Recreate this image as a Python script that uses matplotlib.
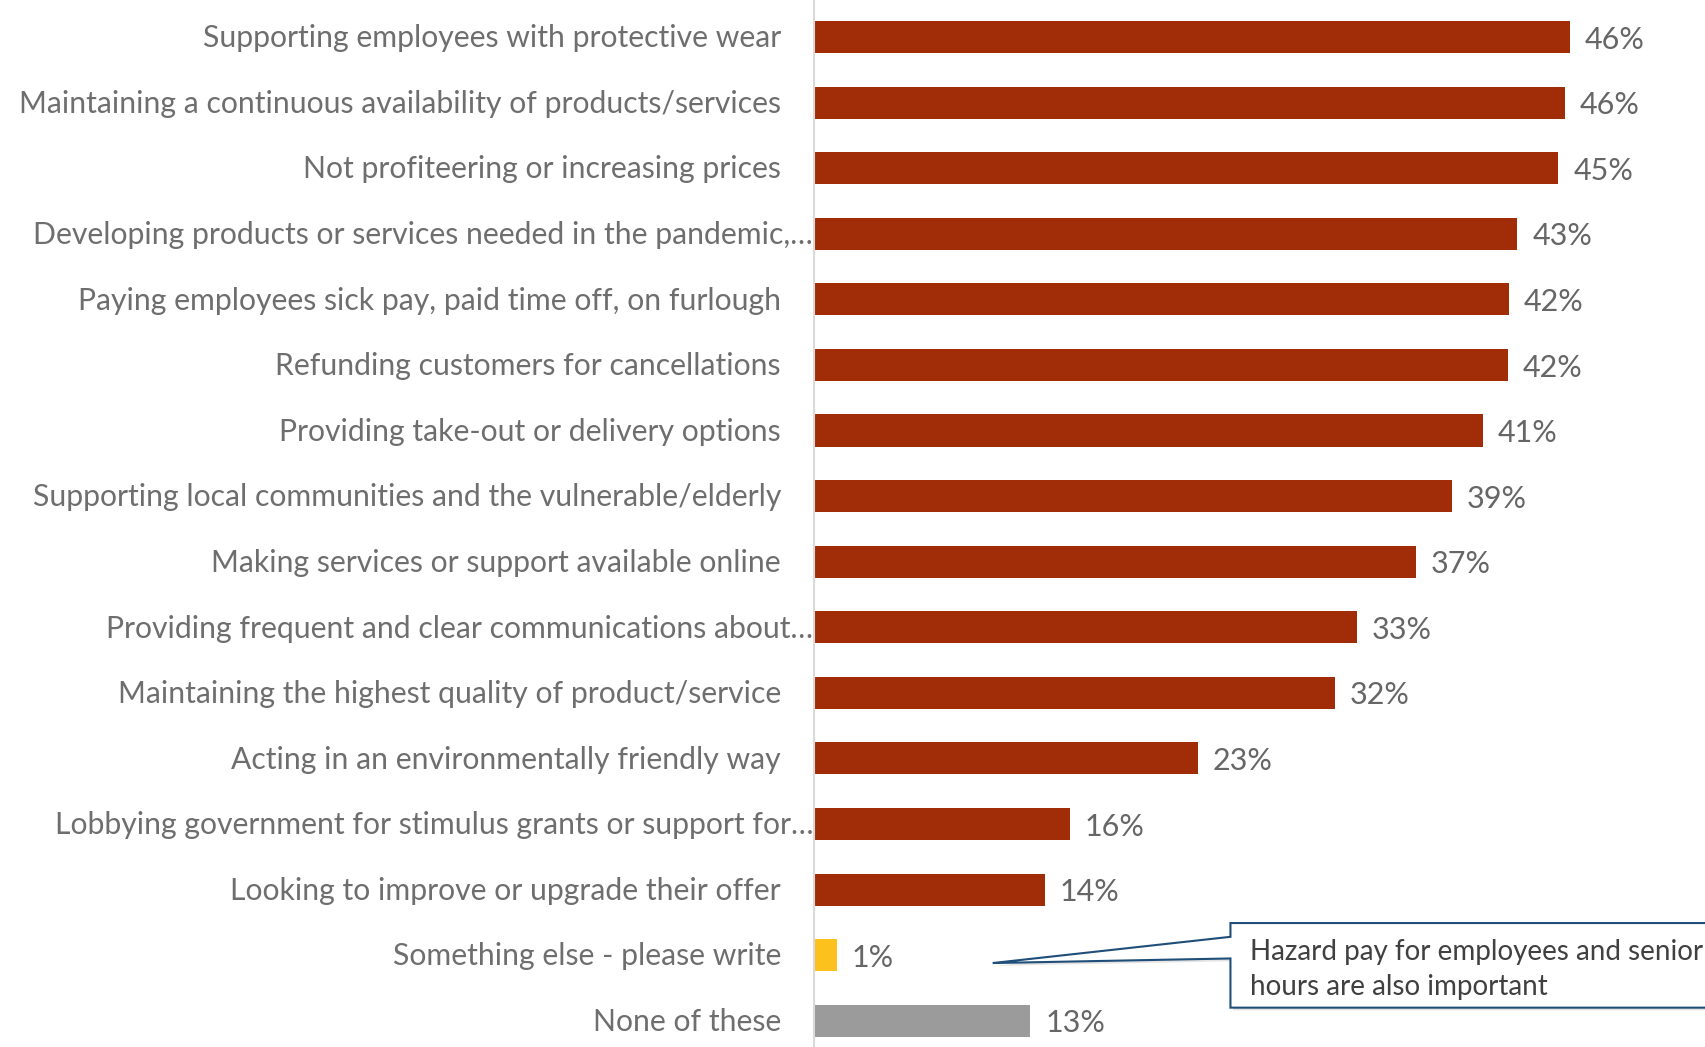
import matplotlib.pyplot as plt
from matplotlib.patches import Polygon
from matplotlib.transforms import blended_transform_factory
import matplotlib.patheffects as pe
import numpy as np

labels = [
    'Supporting employees with protective wear',
    'Maintaining a continuous availability of products/services',
    'Not profiteering or increasing prices',
    'Developing products or services needed in the pandemic,\u2026',
    'Paying employees sick pay, paid time off, on furlough',
    'Refunding customers for cancellations',
    'Providing take-out or delivery options',
    'Supporting local communities and the vulnerable/elderly',
    'Making services or support available online',
    'Providing frequent and clear communications about\u2026',
    'Maintaining the highest quality of product/service',
    'Acting in an environmentally friendly way',
    'Lobbying government for stimulus grants or support for\u2026',
    'Looking to improve or upgrade their offer',
    'Something else - please write',
    'None of these',
]
values = [46.1, 45.8, 45.4, 42.9, 42.4, 42.3, 40.8, 38.9, 36.7, 33.1, 31.8,
          23.4, 15.6, 14.1, 1.4, 13.2]
truncated = [3, 9, 12]

red = '#a12d08'
colors = [red] * 14 + ['#fcc11c', '#9b9b9b']

callout = 'Hazard pay for employees and senior\nhours are also important'

font = ['Lato', 'DejaVu Sans']

fig = plt.figure(figsize=(17.06, 10.47), dpi=100)
ax = fig.add_axes([0.4771, 0.0, 0.5229, 1.0])

y = np.arange(len(values))
ax.barh(y, values, height=0.49, color=colors)

ax.set_xlim(0, 54.4)
ax.set_ylim(15.40, -0.564)

for s in ['top', 'right', 'bottom']:
    ax.spines[s].set_visible(False)
ax.spines['left'].set_color('#d9d9d9')
ax.spines['left'].set_linewidth(1.5)
ax.set_xticks([])
ax.set_yticks([])

# category labels, long ones are cut off with an ellipsis at the axis
tr = blended_transform_factory(ax.transAxes, ax.transData)
for i, lab in enumerate(labels):
    x = -0.001 if i in truncated else -0.037
    ax.text(x, i + 0.02, lab, transform=tr, ha='right', va='center',
            fontsize=21.7, color='#6e6e6e', family=font)

# value labels
for i, v in enumerate(values):
    ax.text(v + 0.9, i + 0.04, f'{v:.0f}%', ha='left', va='center',
            fontsize=22, color='#666666', family=font)

# callout for the "something else" answer
pts = [(10.9, 14.12), (25.4, 13.72), (25.4, 13.51), (62, 13.51),
       (62, 14.80), (25.4, 14.80), (25.4, 14.05)]
box = Polygon(pts, closed=True, facecolor='white', edgecolor='#1f4e79',
              linewidth=1.5, clip_on=False, zorder=5)
box.set_path_effects([pe.SimplePatchShadow(offset=(2, -2), alpha=0.15),
                      pe.Normal()])
ax.add_patch(box)
ax.text(26.6, 14.22, callout, ha='left', va='center', fontsize=20,
        color='#404040', linespacing=1.42, zorder=6, clip_on=False,
        family=font)

fig.savefig('out.png', dpi=100)
